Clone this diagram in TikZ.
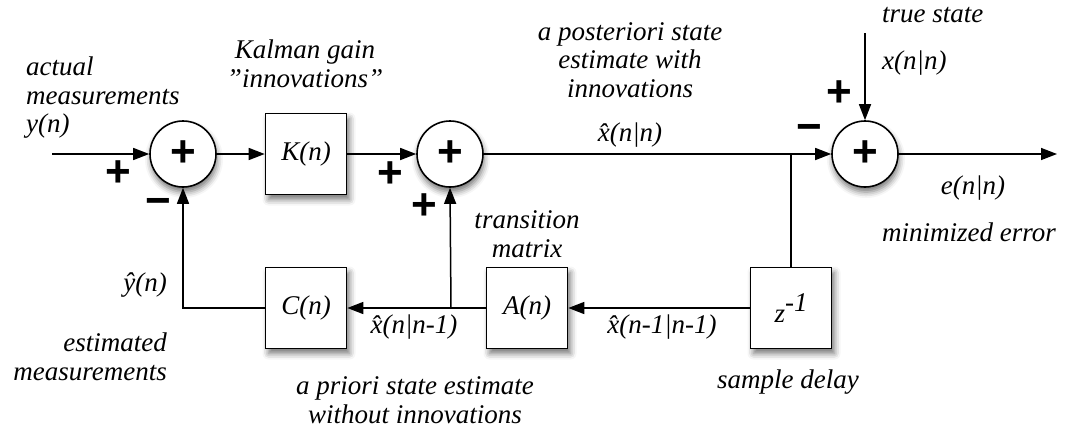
\documentclass[tikz,border=0pt]{standalone}
\usepackage{fontspec}
\setmainfont{Liberation Serif}[Ligatures=ResetAll]
\newfontfamily\signfont{Liberation Sans}
\usetikzlibrary{arrows.meta,shadows.blur}
\tikzset{
  lbl/.style={font=\fontsize{27}{28.5}\selectfont\itshape, inner sep=0pt},
  blockbox/.style={draw, line width=1.6pt, fill=white, minimum size=81pt, inner sep=0pt,
    font=\fontsize{27}{28.5}\selectfont\itshape,
    blur shadow={shadow xshift=3pt, shadow yshift=-5pt, shadow blur radius=6pt, shadow opacity=55}},
  sumnode/.style={draw, circle, line width=1.6pt, fill=white, minimum size=66pt, inner sep=0pt,
    font=\signfont\bfseries\fontsize{44}{44}\selectfont,
    blur shadow={shadow xshift=1pt, shadow yshift=-5pt, shadow blur radius=6pt, shadow opacity=55}},
  sign/.style={font=\signfont\bfseries\fontsize{44}{44}\selectfont, inner sep=0pt},
  conn/.style={line width=1.5pt},
  arr/.style={conn, -{Triangle[length=16pt,width=12pt]}}
}
\begin{document}
\begin{tikzpicture}[x=1pt,y=-1pt]
\useasboundingbox (0,0) rectangle (1065,429);
% blocks
\node[sumnode] (s1) at (183,154) {+};
\node[sumnode] (s2) at (450,154) {+};
\node[sumnode] (s3) at (865,154) {+};
\node[blockbox] (K) at (306,154) {K(n)};
\node[blockbox] (C) at (306,308) {C(n)};
\node[blockbox] (A) at (527,308) {A(n)};
\node[blockbox] (Z) at (791,308) {z\raisebox{11pt}{-1}};
% free ends and taps
\coordinate (in) at (52,154);
\coordinate (out) at (1057,154);
\coordinate (ts) at (865,33);
\coordinate (tap1) at (791,154);
\coordinate (tap2) at (451,308);
\coordinate (corner) at (s1.south |- C.west);
% connectors
\draw[arr] (in) -- (s1.west);
\draw[arr] (s1.east) -- (K.west);
\draw[arr] (K.east) -- (s2.west);
\draw[arr] (s2.east) -- (s3.west);
\draw[arr] (ts) -- (s3.north);
\draw[arr] (s3.east) -- (out);
\draw[conn] (tap1) -- (Z.north);
\draw[arr] (Z.west) -- (A.east);
\draw[arr] (A.west) -- (C.east);
\draw[arr] (tap2) -- (s2.south);
\draw[arr] (C.west) -- (corner) -- (s1.south);
% signs
\node[sign] (p1) at (118,174) {+};
\node[sign] (m1) at (158,207) {−};
\node[sign] (p2) at (390,175) {+};
\node[sign] (p3) at (424,207) {+};
\node[sign] (p4) at (839,94) {+};
\node[sign] (m2) at (809,133) {−};
% labels
\node[lbl, align=left, anchor=west] (lact) at (26,98) {actual\\measurements\\y(n)};
\node[lbl, align=center] (lkal) at (305,64) {Kalman gain\\"innovations"};
\node[lbl, align=center] (lpost) at (630,60) {a posteriori state\\estimate with\\innovations};
\node[lbl] (lxnn) at (630,135) {\^{x}(n|n)};
\node[lbl, anchor=west] (ltrue) at (882,15) {true state};
\node[lbl, anchor=west] (lxt) at (882,63) {x(n|n)};
\node[lbl] (lerr) at (973,188) {e(n|n)};
\node[lbl] (lmin) at (969,232) {minimized error};
\node[lbl, align=center] (ltrans) at (527,234) {transition\\matrix};
\node[lbl] (lxnn1) at (414,327) {\^{x}(n|n-1)};
\node[lbl] (lxn1) at (662,327) {\^{x}(n-1|n-1)};
\node[lbl, anchor=east] (lyhat) at (167,285) {ŷ(n)};
\node[lbl, align=right, anchor=east] (lest) at (167,357) {estimated\\measurements};
\node[lbl, align=center] (lprio) at (415,400) {a priori state estimate\\without innovations};
\node[lbl] (ldelay) at (788,382) {sample delay};
\end{tikzpicture}
\end{document}
